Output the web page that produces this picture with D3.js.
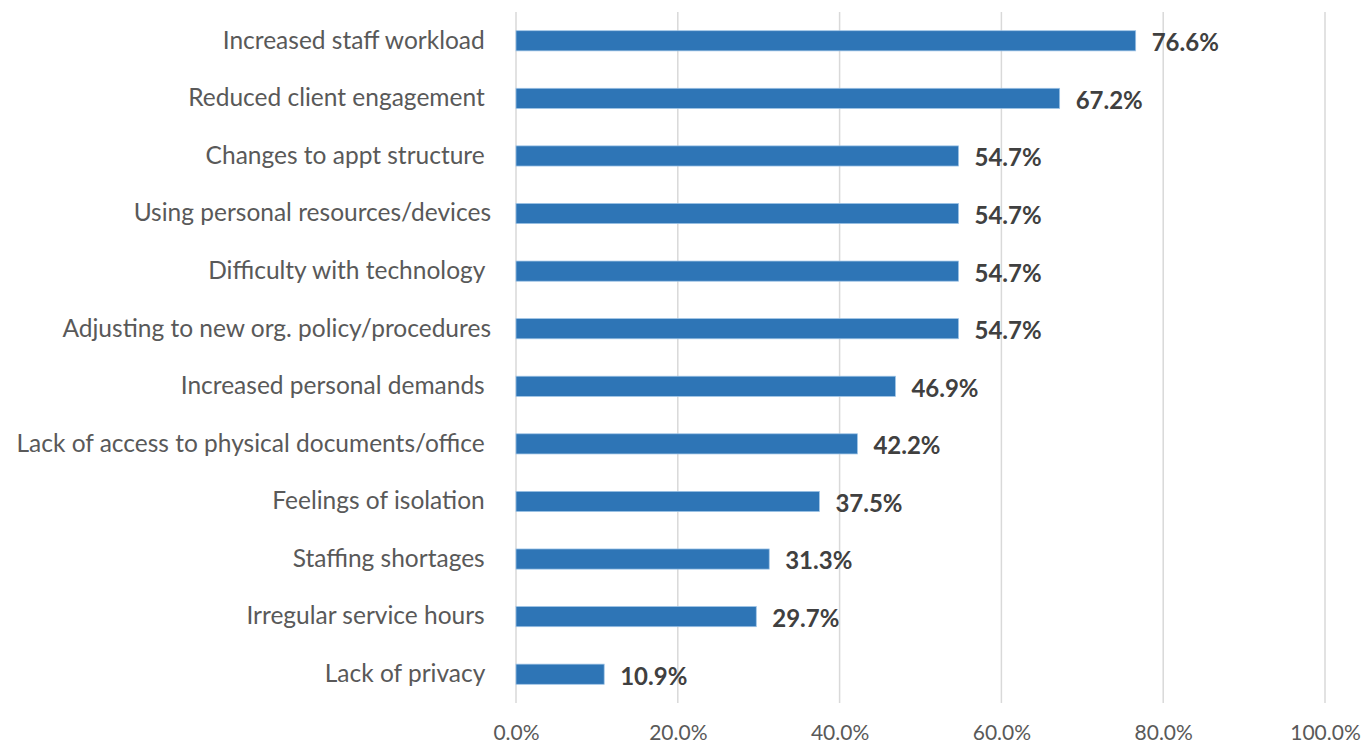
<!DOCTYPE html>
<html>
<head>
<meta charset="utf-8">
<script src="https://cdn.jsdelivr.net/npm/d3@7"></script>
<style>
  html, body { margin: 0; padding: 0; background: #fff; }
  svg { display: block; }
  text { white-space: pre; }
</style>
</head>
<body>
<svg id="chart" width="1364" height="744"></svg>
<script>
// Challenges reported, share of respondents
const categories = [
  "Increased staff workload ",
  "Reduced client engagement ",
  "Changes to appt structure ",
  "Using personal resources/devices",
  "Difficulty with technology ",
  "Adjusting to new org. policy/procedures",
  "Increased personal demands ",
  "Lack of access to physical documents/office ",
  "Feelings of isolation ",
  "Staffing shortages ",
  "Irregular service hours ",
  "Lack of privacy "
];
const values = [76.6, 67.2, 54.7, 54.7, 54.7, 54.7, 46.9, 42.2, 37.5, 31.3, 29.7, 10.9];
const tickValues = [0, 20, 40, 60, 80, 100];

const FONT = "Lato, 'Open Sans', sans-serif";
const svg = d3.select("#chart");

const x = d3.scaleLinear().domain([0, 100]).range([516, 1325]);
const y = d3.scaleBand()
  .domain(categories)
  .range([12, 703])
  .paddingInner(0.65)
  .paddingOuter(0.325);

// vertical gridlines
svg.append("g")
  .selectAll("line")
  .data(tickValues)
  .join("line")
  .attr("x1", d => x(d)).attr("x2", d => x(d))
  .attr("y1", 12).attr("y2", 703)
  .attr("stroke", "#d9d9d9")
  .attr("stroke-width", 1.5);

// x axis labels
const xAxis = d3.axisBottom(x)
  .tickValues(tickValues)
  .tickFormat(d => d.toFixed(1) + "%")
  .tickSize(0)
  .tickPadding(0);
const gx = svg.append("g").attr("transform", "translate(0,725)").call(xAxis);
gx.select(".domain").remove();
gx.selectAll("text")
  .attr("font-family", FONT)
  .attr("font-size", 21)
  .attr("fill", "#595959");

// category labels
const yAxis = d3.axisLeft(y).tickSize(0).tickPadding(0);
const gy = svg.append("g").attr("transform", "translate(491,0)").call(yAxis);
gy.select(".domain").remove();
gy.selectAll("text")
  .attr("font-family", FONT)
  .attr("font-size", 24.5)
  .attr("fill", "#595959");

// bars
svg.append("g")
  .selectAll("rect")
  .data(values)
  .join("rect")
  .attr("x", x(0))
  .attr("y", (d, i) => y(categories[i]))
  .attr("width", d => x(d) - x(0))
  .attr("height", y.bandwidth())
  .attr("fill", "#2e75b6")
  .attr("stroke", "#9dc3e6")
  .attr("stroke-width", 0.75);

// value labels
svg.append("g")
  .selectAll("text")
  .data(values)
  .join("text")
  .attr("x", d => x(d) + 16)
  .attr("y", (d, i) => y(categories[i]) + y.bandwidth() / 2 + 2)
  .attr("dy", "0.35em")
  .attr("font-family", FONT)
  .attr("font-size", 24)
  .attr("font-weight", "bold")
  .attr("fill", "#404040")
  .text(d => d.toFixed(1) + "%");
</script>
</body>
</html>
